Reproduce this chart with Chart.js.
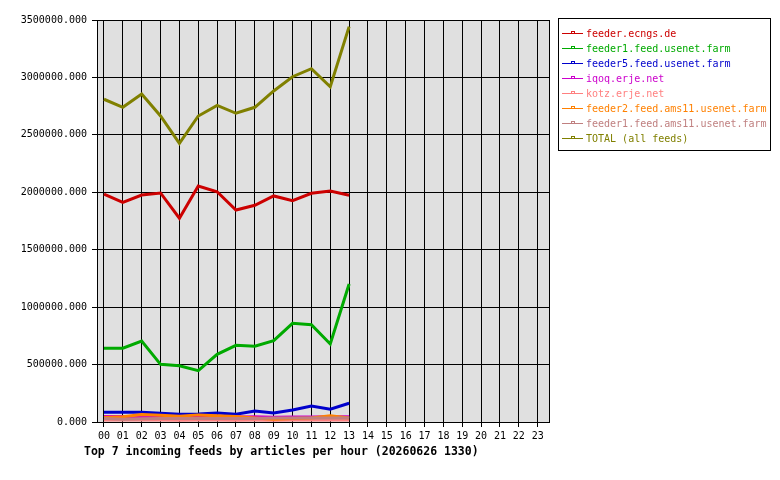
<!DOCTYPE html>
<html>
<head>
<meta charset="utf-8">
<script src="https://cdn.jsdelivr.net/npm/chart.js@4/dist/chart.umd.min.js"></script>
<style>
    html, body { margin: 0; padding: 0; background: #fff; }
    #wrap { position: relative; width: 780px; height: 480px; }
    #title {
        position: absolute; left: 84px; top: 444px;
        font: bold 11.5px 'DejaVu Sans Mono', monospace; color: #000; white-space: pre;
    }
</style>
</head>
<body>
<div id="wrap">
    <canvas id="feedChart" width="780" height="480"></canvas>
    <div id="title">Top 7 incoming feeds by articles per hour (20260626 1330)</div>
</div>
<script>
// Hour labels for the x axis
const hours = ['00', '01', '02', '03', '04', '05', '06', '07', '08', '09', '10', '11',
    '12', '13', '14', '15', '16', '17', '18', '19', '20', '21', '22', '23'];

const feedNames = [
    'feeder.ecngs.de',
    'feeder1.feed.usenet.farm',
    'feeder5.feed.usenet.farm',
    'iqoq.erje.net',
    'kotz.erje.net',
    'feeder2.feed.ams11.usenet.farm',
    'feeder1.feed.ams11.usenet.farm',
    'TOTAL (all feeds)'
];
const feedColors = ['#cc0000', '#00aa00', '#0000cc', '#cc00cc', '#ff8080', '#ff8000', '#c08080', '#808000'];

// articles per hour, hours 00..13
const ecngs = [1985000, 1913000, 1976000, 1994000, 1774000, 2055000, 2005000, 1846000, 1887000, 1968000, 1927000, 1991000, 2011000, 1974000];
const usenetFarm1 = [642000, 642000, 705000, 502000, 490000, 447000, 589000, 668000, 659000, 708000, 859000, 847000, 679000, 1201000];
const usenetFarm5 = [84000, 84000, 84000, 76000, 67000, 70000, 78000, 67000, 96000, 78000, 104000, 139000, 111000, 163000];
const iqoq = [47000, 47000, 45000, 43000, 42000, 45000, 44000, 43000, 45000, 42000, 43000, 44000, 45000, 46000];
const kotz = [18000, 18000, 17000, 17000, 16000, 17000, 17000, 16000, 17000, 16000, 17000, 18000, 18000, 18000];
const ams11Feeder2 = [40000, 45000, 65000, 58000, 50000, 62000, 55000, 48000, 35000, 25000, 30000, 35000, 55000, 35000];
const ams11Feeder1 = [30000, 25000, 28000, 30000, 30000, 30000, 30000, 30000, 30000, 35000, 35000, 35000, 35000, 35000];
const total = [2810000, 2740000, 2856000, 2664000, 2427000, 2664000, 2757000, 2688000, 2740000, 2882000, 3006000, 3076000, 2919000, 3442000];

const seriesValues = [ecngs, usenetFarm1, usenetFarm5, iqoq, kotz, ams11Feeder2, ams11Feeder1, total];

const MONO = "'DejaVu Sans Mono', monospace";

const plotFrame = {
    id: 'plotFrame',
    beforeDraw(chart) {
        const { ctx, chartArea: a } = chart;
        ctx.save();
        ctx.fillStyle = '#e0e0e0';
        ctx.fillRect(a.left, a.top, a.right - a.left, a.bottom - a.top);
        ctx.restore();
    },
    afterDatasetsDraw(chart) {
        const { ctx, chartArea: a } = chart;
        ctx.save();
        ctx.strokeStyle = '#000';
        ctx.lineWidth = 1;
        ctx.strokeRect(Math.round(a.left) + 0.5, Math.round(a.top) + 0.5,
            Math.round(a.right - a.left), Math.round(a.bottom - a.top));
        ctx.restore();
    },
    afterDraw(chart) {
        // boxed legend to the right of the plot
        const ctx = chart.ctx;
        const x0 = 558, y0 = 18, w = 212, h = 132;
        ctx.save();
        ctx.fillStyle = '#fff';
        ctx.fillRect(x0, y0, w, h);
        ctx.strokeStyle = '#000';
        ctx.lineWidth = 1;
        ctx.strokeRect(x0 + 0.5, y0 + 0.5, w, h);
        ctx.font = '10px ' + MONO;
        ctx.textBaseline = 'middle';
        chart.data.datasets.forEach((ds, i) => {
            const y = y0 + 15 + i * 15;
            ctx.strokeStyle = ds.borderColor;
            ctx.beginPath();
            ctx.moveTo(x0 + 4, y + 0.5);
            ctx.lineTo(x0 + 25, y + 0.5);
            ctx.stroke();
            ctx.strokeRect(x0 + 13.5, y - 1.5, 3, 2);
            ctx.fillStyle = ds.borderColor;
            ctx.fillText(ds.label, x0 + 28, y + 1);
        });
        ctx.restore();
    }
};

const datasets = feedNames.map((name, i) => ({
    label: name,
    data: seriesValues[i].map((v, h) => ({ x: h, y: v })),
    borderColor: feedColors[i],
    backgroundColor: feedColors[i],
    borderWidth: 3,
    pointRadius: 0,
    tension: 0,
    fill: false,
    order: feedNames.length - i
}));

new Chart(document.getElementById('feedChart'), {
    type: 'line',
    data: { datasets },
    options: {
        responsive: false,
        animation: false,
        layout: { padding: { top: 20, right: 231, bottom: 0, left: 0 } },
        plugins: {
            legend: { display: false },
            tooltip: { enabled: false }
        },
        scales: {
            x: {
                type: 'linear',
                min: -0.37,
                max: 23.6,
                afterFit(scale) { scale.height = 58; },
                grid: { color: '#000', lineWidth: 1, tickLength: 5 },
                border: { display: true, color: '#000' },
                ticks: {
                    stepSize: 1,
                    includeBounds: false,
                    maxTicksLimit: 30,
                    maxRotation: 0,
                    autoSkip: false,
                    padding: 3,
                    color: '#000',
                    font: { family: MONO, size: 10 },
                    callback(value) { return hours[value] !== undefined ? hours[value] : ''; }
                }
            },
            y: {
                min: 0,
                max: 3500000,
                afterFit(scale) { scale.width = 97; },
                grid: { color: '#000', lineWidth: 1, tickLength: 5 },
                border: { display: true, color: '#000' },
                ticks: {
                    stepSize: 500000,
                    padding: 5,
                    color: '#000',
                    font: { family: MONO, size: 10 },
                    callback(value) { return value.toFixed(3); }
                }
            }
        }
    },
    plugins: [plotFrame]
});
</script>
</body>
</html>
